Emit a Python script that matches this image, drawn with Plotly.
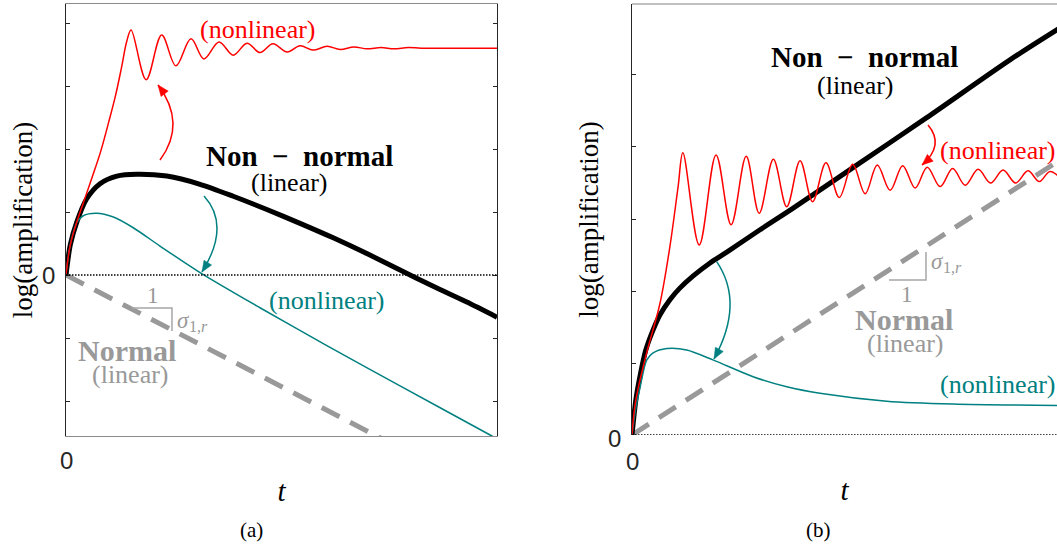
import plotly.graph_objects as go

W, H = 1057, 549

# ---------------- panel (a): stable case ----------------
t_normal_a = [0, 10]
amp_normal_a = [0, -3.545]

t_black_a = [0, 0.1, 0.25, 0.48, 0.79, 1.18, 1.64, 2.34, 3.11, 3.88, 4.66, 5.43, 6.20, 6.98, 7.75, 8.52, 9.30, 10.0]
amp_black_a = [0, 0.48, 0.84, 1.21, 1.45, 1.57, 1.60, 1.57, 1.44, 1.25, 1.04, 0.82, 0.59, 0.34, 0.08, -0.18, -0.43, -0.67]

t_teal_a = [0, 0.09, 0.25, 0.40, 0.71, 1.10, 1.56, 2.18, 3.13, 4.50, 6.00, 7.75, 9.84, 10.0]
amp_teal_a = [0, 0.45, 0.83, 0.94, 0.98, 0.92, 0.75, 0.46, 0.03, -0.52, -1.10, -1.76, -2.54, -2.60]

t_red_a = [0, 0.1, 0.25, 0.45, 0.62, 0.80, 1.00, 1.15, 1.29, 1.41, 1.51,
           1.86, 2.22, 2.55, 2.90, 3.20, 3.55, 3.88, 4.20, 4.50, 4.80, 5.13, 5.43,
           5.73, 6.06, 6.36, 6.68, 6.98, 7.31, 7.61, 7.94, 8.24, 8.91, 10.0]
amp_red_a = [0, 0.48, 0.84, 1.24, 1.58, 1.95, 2.45, 2.85, 3.30, 3.71, 3.89,
             3.10, 3.81, 3.32, 3.75, 3.43, 3.70, 3.49, 3.68, 3.53, 3.67, 3.54, 3.64,
             3.57, 3.63, 3.58, 3.62, 3.59, 3.61, 3.59, 3.61, 3.60, 3.60, 3.60]

# ---------------- panel (b): unstable case ----------------
t_normal_b = [0, 10]
amp_normal_b = [0, 3.845]

t_black_b = [0, 0.09, 0.19, 0.32, 0.49, 0.65, 0.88, 1.11, 1.42, 1.81, 2.20, 2.97, 3.74, 5.29, 6.82, 8.77, 10.0]
amp_black_b = [0, 0.49, 0.83, 1.18, 1.46, 1.67, 1.88, 2.04, 2.21, 2.39, 2.54, 2.85, 3.15, 3.78, 4.40, 5.21, 5.68]

t_teal_b = [0, 0.09, 0.19, 0.34, 0.49, 0.81, 1.27, 1.89, 2.81, 3.59, 4.36, 5.91, 7.45, 10.0]
amp_teal_b = [0, 0.38, 0.67, 1.04, 1.14, 1.20, 1.18, 1.04, 0.81, 0.67, 0.58, 0.47, 0.43, 0.41]

t_red_b = [0, 0.09, 0.34, 0.65, 0.88, 1.07, 1.18,
           1.56, 1.95, 2.30, 2.65, 2.95, 3.28, 3.59, 3.90, 4.19, 4.50, 4.81, 5.12,
           5.41, 5.69, 5.99, 6.28, 6.57, 6.85, 7.15, 7.44, 7.73, 8.03, 8.32, 8.61,
           8.90, 9.19, 9.45, 9.70, 10.0]
amp_red_b = [0, 0.49, 1.14, 1.83, 2.62, 3.45, 3.92,
             2.64, 3.89, 2.92, 3.87, 3.08, 3.83, 3.17, 3.81, 3.24, 3.78, 3.30, 3.76,
             3.35, 3.75, 3.40, 3.74, 3.43, 3.72, 3.45, 3.70, 3.47, 3.69, 3.50, 3.68,
             3.50, 3.67, 3.52, 3.66, 3.53]

# tick positions on the amplification axes (only the origin is labelled)
ticks_a = [-2, -1, 0, 1, 2, 3, 4]
ticks_b = [0, 1, 2, 3, 4, 5]

# ---------------- styling ----------------
RED = "#ff0000"
TEAL = "#008080"
GRAY = "#999999"
DARK = "#262626"
SERIF = "Liberation Serif"
SANS = "Liberation Sans"

dom_xa = [66 / W, 497 / W]
dom_ya = [(H - 436) / H, (H - 4) / H]
dom_xb = [632 / W, 1.0]
dom_yb = [(H - 435) / H, (H - 4) / H]
rng_xa = [0, 10]
rng_ya = [-2.5556, 4.3016]
rng_xb = [0, 9.861]
rng_yb = [0, 5.986]

fig = go.Figure()


def add_curves(xa, ya, normal, black, teal, red):
    fig.add_trace(go.Scatter(x=normal[0], y=normal[1], xaxis=xa, yaxis=ya, mode="lines",
                             line=dict(color=GRAY, width=5, dash="20px,12px")))
    fig.add_trace(go.Scatter(x=black[0], y=black[1], xaxis=xa, yaxis=ya, mode="lines",
                             line=dict(color="black", width=5, shape="spline", smoothing=0.8)))
    fig.add_trace(go.Scatter(x=teal[0], y=teal[1], xaxis=xa, yaxis=ya, mode="lines",
                             line=dict(color=TEAL, width=1.5, shape="spline", smoothing=0.8)))
    fig.add_trace(go.Scatter(x=red[0], y=red[1], xaxis=xa, yaxis=ya, mode="lines",
                             line=dict(color=RED, width=1.5, shape="spline", smoothing=1.0)))


add_curves("x", "y", (t_normal_a, amp_normal_a), (t_black_a, amp_black_a),
           (t_teal_a, amp_teal_a), (t_red_a, amp_red_a))
add_curves("x2", "y2", (t_normal_b, amp_normal_b), (t_black_b, amp_black_b),
           (t_teal_b, amp_teal_b), (t_red_b, amp_red_b))

# zero reference lines
for xr, yr in (("x domain", "y"), ("x2 domain", "y2")):
    fig.add_shape(type="line", xref=xr, yref=yr, x0=0, x1=1, y0=0, y1=0,
                  line=dict(color="black", width=1.3, dash="1.5px,1.5px"))

# top border of panel (b)
fig.add_shape(type="line", xref="x2 domain", yref="y2 domain", x0=0, x1=1, y0=1, y1=1,
              line=dict(color="#808080", width=1))


def px_scale(dom, rng, size):
    return (dom[1] - dom[0]) * size / (rng[1] - rng[0])


def curved_arrow(xr, yr, start, ctrl, tip, color, sx, sy, length=11.0, half=4.5):
    fig.add_shape(type="path", xref=xr, yref=yr,
                  path=f"M {start[0]},{start[1]} Q {ctrl[0]},{ctrl[1]} {tip[0]},{tip[1]}",
                  line=dict(color=color, width=1.5))
    # unit tangent at the tip, in screen pixels (y grows downward)
    dx = (tip[0] - ctrl[0]) * sx
    dy = -(tip[1] - ctrl[1]) * sy
    n = (dx * dx + dy * dy) ** 0.5
    ux, uy = dx / n, dy / n
    bx, by = -ux * length, -uy * length
    corners = [(0.0, 0.0), (bx - uy * half, by + ux * half), (bx + uy * half, by - ux * half)]
    pts = [(tip[0] + cx / sx, tip[1] - cy / sy) for cx, cy in corners]
    path = "M " + " L ".join(f"{p[0]},{p[1]}" for p in pts) + " Z"
    fig.add_shape(type="path", xref=xr, yref=yr, path=path,
                  fillcolor=color, line=dict(color=color, width=0.5))


sxa, sya = px_scale(dom_xa, rng_xa, W), px_scale(dom_ya, rng_ya, H)
sxb, syb = px_scale(dom_xb, rng_xb, W), px_scale(dom_yb, rng_yb, H)

curved_arrow("x", "y", (2.181, 1.825), (2.807, 2.405), (2.135, 3.016), RED, sxa, sya)
curved_arrow("x", "y", (3.202, 1.254), (3.828, 0.786), (3.155, 0.048), TEAL, sxa, sya)
curved_arrow("x2", "y2", (6.868, 4.306), (7.262, 4.028), (6.729, 3.75), RED, sxb, syb)
curved_arrow("x2", "y2", (1.965, 2.407), (2.615, 1.833), (1.903, 1.056), TEAL, sxb, syb)

# slope triangles
for xr, yr, xs, yh, yv in (("x", "y", (1.531, 2.459), -0.524, -0.889),
                           ("x2", "y2", (5.963, 6.821), 2.153, 2.542)):
    fig.add_shape(type="path", xref=xr, yref=yr,
                  path=f"M {xs[0]},{yh} L {xs[1]},{yh} L {xs[1]},{yv}",
                  line=dict(color="#a6a6a6", width=1.5))


def label(xr, yr, x, y, text, color, size, anchor="center", bold=False, family=SERIF,
          xshift=0, yshift=0):
    if bold:
        text = f"<b>{text}</b>"
    fig.add_annotation(x=x, y=y, xref=xr, yref=yr, text=text, showarrow=False,
                       xanchor=anchor, yanchor="middle", borderpad=0,
                       xshift=xshift, yshift=yshift,
                       font=dict(family=family, size=size, color=color))


def sigma_label(xr, yr, x, y):
    # σ with a lowered "1,r" index
    label(xr, yr, x, y, "<i>σ</i>", GRAY, 23, anchor="left")
    label(xr, yr, x, y, "1,<i>r</i>", GRAY, 16, anchor="left", xshift=12, yshift=-6)


NONNORMAL = "Non\u2002\u2212\u2002normal"

label("x", "y", 4.455, 3.889, "(nonlinear)", RED, 26)
label("x", "y", 5.406, 1.889, NONNORMAL, "black", 29, bold=True)
label("x", "y", 5.174, 1.476, "(linear)", "black", 26)
label("x", "y", 6.056, -0.397, "(nonlinear)", TEAL, 26)
label("x", "y", 1.415, -1.206, "Normal", GRAY, 30, bold=True)
label("x", "y", 1.508, -1.587, "(linear)", GRAY, 26)
label("x", "y", 2.019, -0.333, "1", GRAY, 23)
sigma_label("x", "y", 2.552, -0.73)

label("x2", "y2", 5.383, 5.25, NONNORMAL, "black", 29, bold=True)
label("x2", "y2", 5.197, 4.861, "(linear)", "black", 26)
label("x2", "y2", 9.85, 3.958, "(nonlinear)", RED, 26, anchor="right")
label("x2", "y2", 6.311, 1.611, "Normal", GRAY, 30, bold=True)
label("x2", "y2", 6.357, 1.264, "(linear)", GRAY, 26)
label("x2", "y2", 9.85, 0.708, "(nonlinear)", TEAL, 26, anchor="right")
label("x2", "y2", 6.381, 1.958, "1", GRAY, 23)
sigma_label("x2", "y2", 6.914, 2.403)

# origin labels on both axes
for xr, yr, x, y, anchor, shift in (("x", "y", 0, 0, "right", (-9, 0)),
                                    ("x", "y domain", 0, 0, "center", (0, -24)),
                                    ("x2", "y2", 0, 0, "right", (-9, -3)),
                                    ("x2", "y2 domain", 0, 0, "center", (0, -27))):
    fig.add_annotation(x=x, y=y, xref=xr, yref=yr, text="0", showarrow=False,
                       xanchor=anchor, yanchor="middle", xshift=shift[0], yshift=shift[1],
                       font=dict(family=SANS, size=24, color=DARK))

# panel tags
for px, py, text in ((251, 530, "(a)"), (818, 530, "(b)")):
    fig.add_annotation(x=px / W, y=1 - py / H, xref="paper", yref="paper", text=text,
                       showarrow=False, xanchor="center", yanchor="middle",
                       font=dict(family=SERIF, size=21, color="black"))

xtitle = dict(text="<i>t</i>", font=dict(family=SERIF, size=29, color="black"), standoff=44)
ytitle = dict(text="log(amplification)", font=dict(family=SERIF, size=27, color="black"),
              standoff=24)

common_x = dict(showgrid=False, zeroline=False, showticklabels=False, ticks="",
                automargin=False, fixedrange=True, title=xtitle)
common_y = dict(showgrid=False, zeroline=False, showticklabels=False, ticks="inside",
                ticklen=4, tickcolor=DARK, tickwidth=1, automargin=False,
                showline=True, linecolor=DARK, linewidth=1, title=ytitle)

fig.update_layout(
    width=W, height=H, margin=dict(l=0, r=0, t=0, b=0),
    paper_bgcolor="white", plot_bgcolor="white", showlegend=False,
    xaxis=dict(domain=dom_xa, range=rng_xa, anchor="y", showline=True, linecolor="#8c8c8c",
               linewidth=1, mirror=True, **common_x),
    yaxis=dict(domain=dom_ya, range=rng_ya, anchor="x", mirror="ticks", tickvals=ticks_a, **common_y),
    xaxis2=dict(domain=dom_xb, range=rng_xb, anchor="y2", showline=False, **common_x),
    yaxis2=dict(domain=dom_yb, range=rng_yb, anchor="x2", mirror=False, tickvals=ticks_b, **common_y),
)

fig.write_html("out.html")
